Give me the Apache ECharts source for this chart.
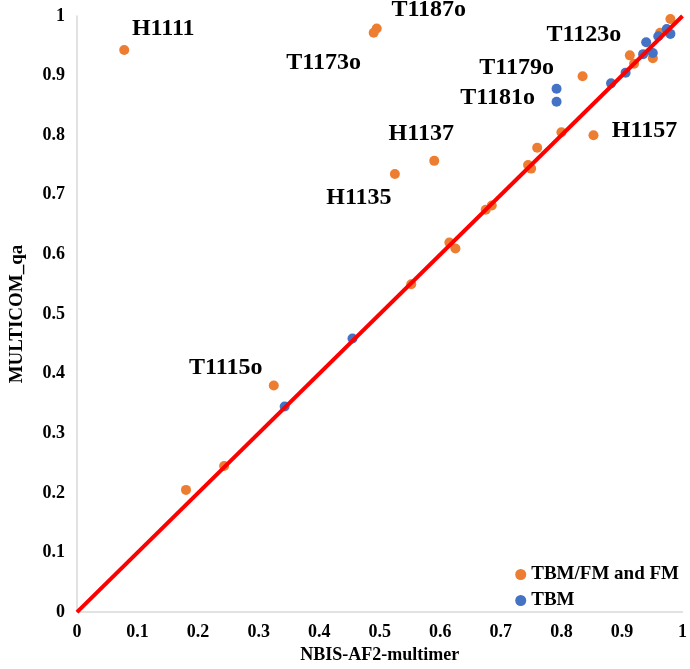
<!DOCTYPE html>
<html>
<head>
<meta charset="utf-8">
<script src="https://cdn.jsdelivr.net/npm/echarts@6/dist/echarts.min.js"></script>
<style>html,body{margin:0;padding:0;background:#fff}#c{width:690px;height:669px}</style>
</head>
<body>
<div id="c"></div>
<script>
// ---- data ----
const xTicks = [0, 0.1, 0.2, 0.3, 0.4, 0.5, 0.6, 0.7, 0.8, 0.9, 1];
const yTicks = [0, 0.1, 0.2, 0.3, 0.4, 0.5, 0.6, 0.7, 0.8, 0.9, 1];
const seriesNames = ['TBM/FM and FM', 'TBM'];
// TBM/FM and FM (orange) [NBIS-AF2-multimer, MULTICOM_qa, target]
const tbmfm = [
  [0.078, 0.943, 'H1111'],
  [0.495, 0.979, 'T1187o'],
  [0.490, 0.972, 'T1173o'],
  [0.590, 0.757, 'H1137'],
  [0.525, 0.735, 'H1135'],
  [0.853, 0.800, 'H1157'],
  [0.913, 0.934, 'T1123o'],
  [0.325, 0.380, 'T1115o'],
  [0.18, 0.205, ''],
  [0.243, 0.245, ''],
  [0.552, 0.550, ''],
  [0.615, 0.620, ''],
  [0.625, 0.610, ''],
  [0.675, 0.675, ''],
  [0.685, 0.682, ''],
  [0.745, 0.750, ''],
  [0.750, 0.744, ''],
  [0.760, 0.779, ''],
  [0.800, 0.805, ''],
  [0.835, 0.899, ''],
  [0.920, 0.920, ''],
  [0.951, 0.929, ''],
  [0.963, 0.972, ''],
  [0.980, 0.995, '']
];
// TBM (blue)
const tbm = [
  [0.792, 0.878, 'T1179o'],
  [0.792, 0.856, 'T1181o'],
  [0.343, 0.345, ''],
  [0.455, 0.459, ''],
  [0.882, 0.887, ''],
  [0.906, 0.905, ''],
  [0.935, 0.936, ''],
  [0.940, 0.956, ''],
  [0.951, 0.938, ''],
  [0.960, 0.966, ''],
  [0.974, 0.978, ''],
  [0.980, 0.970, '']
];
const refLine = [[0, 0], [1, 1]];

// ---- label placement (style) ----
const labelOffsets = {
  'H1111': [39, -21],
  'T1187o': [52, -19],
  'T1173o': [-50, 30],
  'H1137': [-13, -27],
  'H1135': [-36, 24],
  'H1157': [51, -4],
  'T1123o': [-46, -21],
  'T1115o': [-48, -18],
  'T1179o': [-40, -21],
  'T1181o': [-59, -4]
};
const serif = '"Liberation Serif","Times New Roman",serif';
function mkData(arr) {
  return arr.map(d => {
    const o = { value: [d[0], d[1]] };
    if (d[2]) {
      o.label = {
        show: true, position: 'inside', formatter: d[2],
        offset: labelOffsets[d[2]], color: '#000',
        textBorderWidth: 0, textBorderColor: 'transparent',
        fontFamily: serif, fontWeight: 'bold', fontSize: 24
      };
    }
    return o;
  });
}
const chart = echarts.init(document.getElementById('c'), null, { renderer: 'canvas' });
const tickLabel = { fontFamily: serif, fontWeight: 'bold', fontSize: 18, color: '#000' };
chart.setOption({
  animation: false,
  backgroundColor: '#fff',
  grid: { left: 72, right: 6, top: 16, bottom: 39, containLabel: false },
  legend: {
    data: seriesNames,
    orient: 'vertical', right: 6, bottom: 54,
    itemWidth: 11, itemHeight: 11, itemGap: 7, itemStyle: { borderWidth: 0 },
    icon: 'circle',
    textStyle: { fontFamily: serif, fontWeight: 'bold', fontSize: 19, color: '#000' }
  },
  xAxis: {
    type: 'value', min: 0, max: 1, interval: 0.1,
    name: 'NBIS-AF2-multimer', nameLocation: 'middle', nameGap: 28,
    nameTextStyle: { fontFamily: serif, fontWeight: 'bold', fontSize: 18, color: '#000' },
    axisLine: { show: true, lineStyle: { color: '#d9d9d9', width: 1.5 } },
    axisTick: { show: false },
    splitLine: { show: false },
    axisLabel: Object.assign({ margin: 11, formatter: v => xTicks.includes(+v.toFixed(1)) ? String(+v.toFixed(1)) : '' }, tickLabel)
  },
  yAxis: {
    type: 'value', min: 0, max: 1, interval: 0.1,
    name: 'MULTICOM_qa', nameLocation: 'middle', nameGap: 50,
    nameTextStyle: { fontFamily: serif, fontWeight: 'bold', fontSize: 19, color: '#000' },
    axisLine: { show: true, lineStyle: { color: '#d9d9d9', width: 1.5 } },
    axisTick: { show: false },
    splitLine: { show: false },
    axisLabel: Object.assign({ margin: 12, formatter: v => yTicks.includes(+v.toFixed(1)) ? String(+v.toFixed(1)) : '' }, tickLabel)
  },
  series: [
    {
      name: seriesNames[0], type: 'scatter', symbolSize: 10,
      itemStyle: { color: '#ED7D31', opacity: 1 }, data: mkData(tbmfm), z: 3
    },
    {
      name: seriesNames[1], type: 'scatter', symbolSize: 10,
      itemStyle: { color: '#4472C4', opacity: 1 }, data: mkData(tbm), z: 3
    },
    {
      name: 'ref', type: 'line', data: refLine, showSymbol: false, symbol: 'none',
      lineStyle: { color: '#ff0000', width: 4 }, z: 5, silent: true
    }
  ]
});
</script>
</body>
</html>
